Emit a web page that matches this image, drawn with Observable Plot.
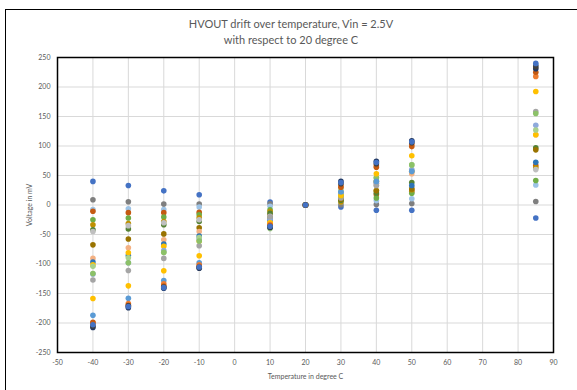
<!DOCTYPE html>
<html><head><meta charset="utf-8">
<script src="https://cdn.jsdelivr.net/npm/d3@7"></script>
<script src="https://cdn.jsdelivr.net/npm/@observablehq/plot@0.6"></script>
<style>
body{margin:0;background:#fff;}
#wrap{position:relative;width:577px;height:390px;overflow:hidden;font-family:Lato,"Open Sans",sans-serif;}
#border{position:absolute;left:5px;top:9px;width:640px;height:440px;border:1.5px solid #000;box-sizing:border-box;}
#title{position:absolute;left:0;width:582px;top:16px;text-align:center;color:#595959;font-size:11px;line-height:16px;z-index:2;}
#chart{position:absolute;left:0;top:0;}
</style></head><body>
<div id="wrap"><div id="border"></div><div id="title">HVOUT drift over temperature, Vin = 2.5V<br>with respect to 20 degree C</div><div id="chart"></div></div>
<script>
const temperatures = [-40, -30, -20, -10, 10, 20, 30, 40, 50, 85];
const xTicks = [-50, -40, -30, -20, -10, 0, 10, 20, 30, 40, 50, 60, 70, 80, 90];
const yTicks = [-250, -200, -150, -100, -50, 0, 50, 100, 150, 200, 250];

const seriesNames = ["S1","S2","S3","S4","S5","S6","S7","S8","S9","S10","S11","S12","S13","S14","S15","S16","S17","S18","S19","S20","S21","S22","S23"];
const seriesColors = ["#4472C4","#7F7F7F","#9DC3E6","#C55A11","#70AD47","#BF9000","#548235","#BFBFBF","#997300","#F4B183","#2E75B6","#FFC000","#8FAADC","#A9D18E","#A5A5A5","#8CC168","#FFC000","#5B9BD5","#ED7D31","#C55A11","#203864","#404040","#4472C4"];

const s1  = [40, 33, 24, 17.5, 5, 0, -3.5, -9, -9, -22];
const s2  = [9, 5.5, 1.5, 1.5, 2, 0, 0.5, 1, 2.5, 6];
const s3  = [-7.5, -6.5, -7.5, -3.5, -2, 0, 5, 7.5, 10.5, 34];
const s4  = [-10.5, -13, -13, -12.5, -17, 0, 16, 18, 23, 67];
const s5  = [-25, -22, -20.5, -16.5, -8, 0, 7.5, 12, 20, 41.5];
const s6  = [-33.5, -31.5, -28, -21.5, -11, 0, 5, 24.5, 26, 63];
const s7  = [-42, -40.5, -33.5, -28, -14, 0, 8, 20.5, 38, 97];
const s8  = [-45, -35, -30, -25, -19, 0, 12, 33, 30, 60];
const s9  = [-67.5, -57.5, -49, -38.5, -22, 0, 10, 24, 27, 93.5];
const s10 = [-90.5, -72.5, -59, -45, -28, 0, 19, 37, 53, 119];
const s11 = [-96.5, -85.5, -66, -52.5, -26, 0, 22, 40, 33, 72.5];
const s12 = [-101.5, -81, -70, -61, -30, 0, 16, 40, 57, 119];
const s13 = [-117, -98, -77, -57.5, -24, 0, 19, 37, 60, 135];
const s14 = [-104, -89.5, -80.5, -55, -40, 0, 26, 46, 68, 127];
const s15 = [-127, -111, -90.5, -69, -20, 0, 12, 33, 57, 158.5];
const s16 = [-116, -98, -80, -61, -38, 0, 16, 46, 68, 155];
const s17 = [-158.5, -137, -111.5, -86, -30, 0, 16, 53, 83.5, 192.5];
const s18 = [-187, -158, -128, -98, -36, 0, 22, 40, 57, 237.5];
const s19 = [-200, -167, -133.5, -101.5, -33, 0, 32, 66.5, 102.5, 218];
const s20 = [-199, -170, -137.5, -104, -35, 0, 30, 64, 99, 225];
const s21 = [-207.5, -174, -141, -107, -38, 0, 40, 74, 109, 231];
const s22 = [-205, -171, -139, -106, -37, 0, 36, 70, 105.5, 234.5];
const s23 = [-203, -172, -140, -105, -36, 0, 38, 72, 107, 240];

const seriesValues = [s1,s2,s3,s4,s5,s6,s7,s8,s9,s10,s11,s12,s13,s14,s15,s16,s17,s18,s19,s20,s21,s22,s23];

const points = seriesValues.flatMap((vals, i) =>
  vals.map((v, j) => ({t: temperatures[j], v, s: seriesNames[i]})));

const chart = Plot.plot({
  width: 577, height: 390,
  marginLeft: 57, marginRight: 24, marginTop: 57, marginBottom: 38,
  style: {fontFamily: "Lato, 'Open Sans', sans-serif", background: "transparent", overflow: "visible"},
  x: {domain: [-50, 90]},
  y: {domain: [-250, 250]},
  color: {domain: seriesNames, range: seriesColors},
  marks: [
    Plot.gridX(xTicks, {stroke: "#d9d9d9", strokeOpacity: 1, strokeWidth: 1}),
    Plot.gridY(yTicks, {stroke: "#d9d9d9", strokeOpacity: 1, strokeWidth: 1}),
    Plot.axisX({ticks: xTicks, tickSize: 0, tickPadding: 8, fontSize: 7, fill: "#595959",
      tickFormat: d => String(d), label: "Temperature in degree C", labelAnchor: "center",
      labelOffset: 26, labelArrow: "none"}),
    Plot.axisY({ticks: yTicks, tickSize: 0, tickPadding: 7, fontSize: 7, fill: "#595959",
      tickFormat: d => String(d), label: "Voltage in mV", labelAnchor: "center",
      labelOffset: 30, labelArrow: "none"}),
    Plot.dot(points, {x: "t", y: "v", fill: "s", r: 2.8}),
    Plot.frame({stroke: "#000", strokeWidth: 1.5})
  ]
});
document.getElementById("chart").appendChild(chart);
</script>
</body></html>
